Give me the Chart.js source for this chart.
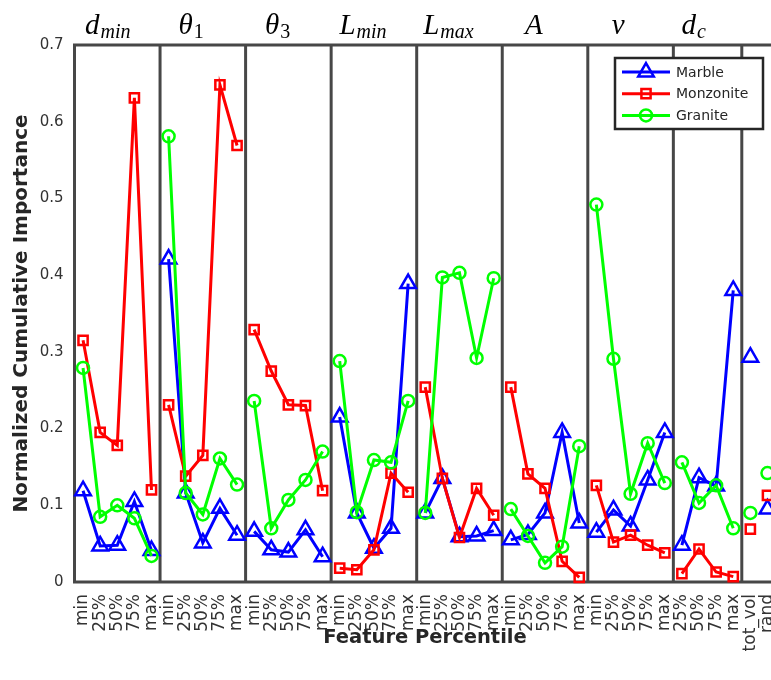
<!DOCTYPE html>
<html>
<head>
<meta charset="utf-8">
<script src="https://cdn.jsdelivr.net/npm/chart.js@4/dist/chart.umd.min.js"></script>
<style>
  html, body { margin: 0; padding: 0; background: #fff; }
  #wrap { width: 771px; height: 680px; overflow: hidden; position: relative; }
  canvas { display: block; }
</style>
</head>
<body>
<div id="wrap"><canvas id="c" width="792" height="680"></canvas></div>
<script>
// Feature groups and their percentile columns
const featureGroups = [
  { main: 'd', sub: 'min' },
  { main: 'θ', sub: '1' },
  { main: 'θ', sub: '3' },
  { main: 'L', sub: 'min' },
  { main: 'L', sub: 'max' },
  { main: 'A', sub: '' },
  { main: 'v', sub: '' },
  { main: 'd', sub: 'c' }
];
const groupSizes = [5, 5, 5, 5, 5, 5, 5, 4, 1, 1];
const categories = [
  'min', '25%', '50%', '75%', 'max',
  'min', '25%', '50%', '75%', 'max',
  'min', '25%', '50%', '75%', 'max',
  'min', '25%', '50%', '75%', 'max',
  'min', '25%', '50%', '75%', 'max',
  'min', '25%', '50%', '75%', 'max',
  'min', '25%', '50%', '75%', 'max',
  '25%', '50%', '75%', 'max',
  'tot_vol',
  'rand'
];
const yTicks = [0, 0.1, 0.2, 0.3, 0.4, 0.5, 0.6, 0.7];

// Normalized cumulative importance per rock type
const marble = [
  0.119, 0.047, 0.048, 0.105, 0.041,
  0.421, 0.116, 0.051, 0.096, 0.061,
  0.066, 0.042, 0.039, 0.068, 0.033,
  0.215, 0.090, 0.044, 0.070, 0.389,
  0.090, 0.135, 0.059, 0.060, 0.067,
  0.055, 0.062, 0.090, 0.195, 0.077,
  0.065, 0.094, 0.073, 0.133, 0.195,
  0.048, 0.136, 0.125, 0.380,
  0.293,
  0.095
];
const monzonite = [
  0.315, 0.195, 0.178, 0.631, 0.120,
  0.231, 0.138, 0.165, 0.648, 0.569,
  0.329, 0.275, 0.231, 0.230, 0.119,
  0.018, 0.016, 0.042, 0.142, 0.117,
  0.254, 0.135, 0.058, 0.122, 0.087,
  0.254, 0.141, 0.122, 0.027, 0.006,
  0.126, 0.052, 0.061, 0.048, 0.038,
  0.011, 0.043, 0.013, 0.007,
  0.069,
  0.113
];
const granite = [
  0.279, 0.085, 0.100, 0.083, 0.034,
  0.581, 0.116, 0.088, 0.161, 0.127,
  0.236, 0.070, 0.107, 0.133, 0.170,
  0.288, 0.091, 0.159, 0.156, 0.236,
  0.090, 0.397, 0.403, 0.292, 0.396,
  0.095, 0.060, 0.025, 0.046, 0.177,
  0.492, 0.291, 0.115, 0.181, 0.129,
  0.156, 0.103, 0.126, 0.070,
  0.090,
  0.142
];

// group index of every column, used to break lines between groups
const groupOf = [];
groupSizes.forEach((n, g) => { for (let i = 0; i < n; i++) groupOf.push(g); });
// column index after which a separator is drawn
const separatorsAfter = [];
{ let acc = 0; groupSizes.slice(0, 8).forEach(n => { acc += n; separatorsAfter.push(acc - 1); }); }

function series(label, data, color, style, radius, order) {
  return {
    label, data, order,
    borderColor: color,
    backgroundColor: color,
    borderWidth: 3,
    pointStyle: style,
    pointRadius: radius,
    pointHoverRadius: radius,
    pointBorderWidth: 2.5,
    pointBorderColor: color,
    pointBackgroundColor: 'rgba(0,0,0,0)',
    tension: 0,
    clip: false,
    segment: {
      borderColor: ctx => groupOf[ctx.p0DataIndex] === groupOf[ctx.p1DataIndex] ? color : 'rgba(0,0,0,0)'
    }
  };
}

const datasets = [
  series('Marble', marble, '#0000ff', 'triangle', 9, 2),
  series('Monzonite', monzonite, '#ff0000', 'rect', 6.5, 1),
  series('Granite', granite, '#00ff00', 'circle', 6, 0)
];

const frameColor = '#474747';

const decorations = {
  id: 'decorations',
  beforeDatasetsDraw(chart) {
    const { ctx, chartArea: a, scales: { x } } = chart;
    ctx.save();
    ctx.strokeStyle = frameColor;
    ctx.lineWidth = 3;
    separatorsAfter.forEach(i => {
      const px = (x.getPixelForValue(i) + x.getPixelForValue(i + 1)) / 2;
      ctx.beginPath();
      ctx.moveTo(px, a.top);
      ctx.lineTo(px, a.bottom);
      ctx.stroke();
    });
    ctx.beginPath();
    ctx.moveTo(a.right, a.top);
    ctx.lineTo(a.left, a.top);
    ctx.lineTo(a.left, a.bottom);
    ctx.lineTo(a.right, a.bottom);
    ctx.stroke();
    ctx.restore();
  },
  afterDraw(chart, args, opts) {
    const { ctx, chartArea: a, scales: { x } } = chart;
    ctx.save();

    // group titles above the frame
    ctx.fillStyle = '#000';
    ctx.textBaseline = 'alphabetic';
    const step = x.getPixelForValue(1) - x.getPixelForValue(0);
    featureGroups.forEach((g, i) => {
      const cx = x.getPixelForValue(0) + opts.titleAnchors[i] * step;
      ctx.font = 'italic 29px "Liberation Serif"';
      const wm = ctx.measureText(g.main).width;
      const subFont = (/^\d$/.test(g.sub) ? '' : 'italic ') + '20px "Liberation Serif"';
      ctx.font = subFont;
      const ws = g.sub ? ctx.measureText(g.sub).width + 1 : 0;
      const left = cx - (wm + ws) / 2;
      ctx.textAlign = 'left';
      ctx.font = 'italic 29px "Liberation Serif"';
      ctx.fillText(g.main, left, 34);
      if (g.sub) {
        ctx.font = subFont;
        ctx.fillText(g.sub, left + wm + 1, 38);
      }
    });

    // axis titles
    ctx.fillStyle = '#262626';
    ctx.font = 'bold 19.5px "DejaVu Sans"';
    ctx.textAlign = 'center';
    ctx.textBaseline = 'middle';
    ctx.fillText('Feature Percentile', 425, 638);
    ctx.save();
    ctx.translate(22, (a.top + a.bottom) / 2);
    ctx.rotate(-Math.PI / 2);
    ctx.font = 'bold 20px "DejaVu Sans"';
    ctx.fillText('Normalized Cumulative Importance', 0, 0);
    ctx.restore();

    // legend box with line-and-marker samples
    const L = opts.legend;
    ctx.fillStyle = '#fff';
    ctx.fillRect(L.x, L.y, L.w, L.h);
    ctx.strokeStyle = '#262626';
    ctx.lineWidth = 2.5;
    ctx.strokeRect(L.x, L.y, L.w, L.h);
    chart.data.datasets.forEach((ds, i) => {
      const yy = L.y + 14 + i * 21.7;
      ctx.strokeStyle = ds.borderColor;
      ctx.lineWidth = 3;
      ctx.beginPath();
      ctx.moveTo(L.x + 7, yy);
      ctx.lineTo(L.x + 55, yy);
      ctx.stroke();
      ctx.fillStyle = 'rgba(0,0,0,0)';
      ctx.strokeStyle = ds.borderColor;
      ctx.lineWidth = 2.5;
      Chart.helpers.drawPoint(ctx, {
        pointStyle: ds.pointStyle, radius: ds.pointRadius, borderWidth: 2.5, rotation: 0
      }, L.x + 31, yy);
      ctx.fillStyle = '#262626';
      ctx.font = '14px "DejaVu Sans"';
      ctx.textAlign = 'left';
      ctx.textBaseline = 'middle';
      ctx.fillText(ds.label, L.x + 61, yy + 1);
    });
    ctx.restore();
  }
};

new Chart(document.getElementById('c'), {
  type: 'line',
  data: { labels: categories, datasets },
  options: {
    responsive: false,
    animation: false,
    devicePixelRatio: 1,
    layout: { padding: { top: 45, right: 0, left: 0, bottom: 0 } },
    plugins: {
      legend: { display: false },
      tooltip: { enabled: false },
      decorations: {
        titleAnchors: [1.45, 6.32, 11.37, 16.36, 21.35, 26.34, 31.28, 35.69],
        legend: { x: 615, y: 58, w: 148, h: 71 }
      }
    },
    scales: {
      x: {
        type: 'category',
        offset: true,
        grid: { display: false },
        border: { display: false },
        ticks: {
          autoSkip: false,
          maxRotation: 90,
          minRotation: 90,
          padding: 4,
          color: '#333',
          font: { family: 'DejaVu Sans', size: 17 }
        },
        afterFit: s => { s.height = 98; }
      },
      y: {
        min: 0,
        max: 0.7,
        grid: { display: false },
        border: { display: false },
        afterBuildTicks: s => { s.ticks = yTicks.map(v => ({ value: v })); },
        ticks: {
          padding: 3,
          color: '#333',
          font: { family: 'DejaVu Sans', size: 15 },
          callback: v => (v === 0 ? '0' : v.toFixed(1))
        },
        afterFit: s => { s.width = 74.5; }
      }
    }
  },
  plugins: [decorations]
});
</script>
</body>
</html>
